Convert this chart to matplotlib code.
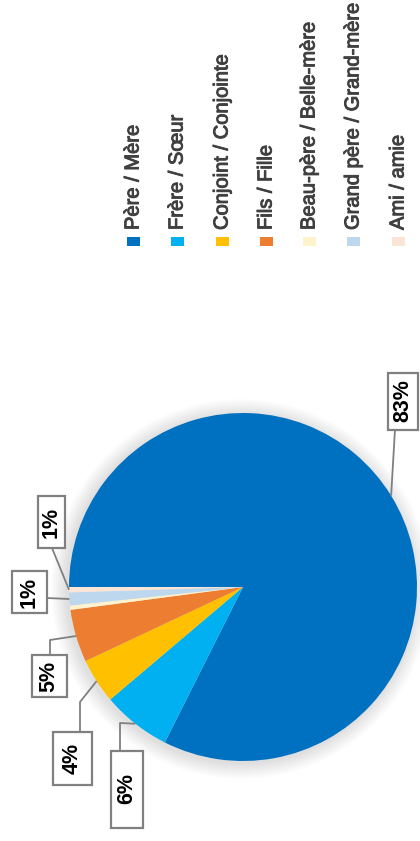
import numpy as np
import matplotlib
matplotlib.use("Agg")
import matplotlib.pyplot as plt
import matplotlib.patheffects as pe
from matplotlib.patches import Rectangle, Circle

# donnees
categories = ["Père / Mère", "Frère / Sœur", "Conjoint / Conjointe", "Fils / Fille",
              "Beau-père / Belle-mère", "Grand père / Grand-mère", "Ami / amie"]
valeurs = [82.5, 6.4, 4.2, 4.9, 0.4, 1.2, 0.5]
etiquettes = ["83%", "6%", "4%", "5%", "", "1%", "1%"]
couleurs = ["#0070C0", "#00B0F0", "#FFC000", "#ED7D31", "#FFF2CC", "#BDD7EE", "#FBE5D6"]

W, H = 420, 841
plt.rcParams['font.family'] = ['Liberation Sans', 'DejaVu Sans']
fig = plt.figure(figsize=(W / 100, H / 100), dpi=100)
ax = fig.add_axes([0, 0, 1, 1])

def py(y):
    # coordonnees image -> axes
    return H - y

cx, cy, r = 243, py(587), 174

# ombre douce autour du camembert
for i in range(16):
    ax.add_patch(Circle((cx - 2, cy - 2), r + 16 - i, color="#000000", alpha=0.008, lw=0, zorder=1))

wedges, _ = ax.pie(valeurs, colors=couleurs, startangle=180, counterclock=False,
                   center=(cx, cy), radius=r, wedgeprops=dict(linewidth=0, zorder=2),
                   frame=True)
ax.set_xlim(0, W)
ax.set_ylim(0, H)
ax.set_aspect("equal")
ax.axis("off")

# boites d'etiquettes : centre (x, y image), taille (l, h), coude
boites = {
    0: ((403, 401), (30, 57), None),
    1: ((127, 789), (32, 77), (120, 723)),
    2: ((72, 758), (39, 53), (80, 702)),
    3: ((49, 676), (35, 42), (50, 640)),
    5: ((29, 592), (35, 42), None),
    6: ((51, 522), (27, 52), None),
}

for i, ((bx, by), (bw, bh), coude) in boites.items():
    w = wedges[i]
    theta = np.deg2rad((w.theta1 + w.theta2) / 2)
    ax_, ay_ = cx + r * np.cos(theta), cy + r * np.sin(theta)
    # point d'attache sur la boite
    if i == 0:
        tx, ty = bx - 8, py(by + bh / 2)
    elif i == 5:
        tx, ty = bx + bw / 2, py(598)
    elif i == 6:
        tx, ty = bx + 1, py(by + bh / 2)
    else:
        tx, ty = coude[0], py(by - bh / 2)
    xs, ys = [ax_], [ay_]
    if coude is not None:
        xs.append(coude[0])
        ys.append(py(coude[1]))
    xs.append(tx)
    ys.append(ty)
    ax.plot(xs, ys, color="#808080", lw=1.3, zorder=3, solid_capstyle="butt")
    ax.add_patch(Rectangle((bx - bw / 2, py(by + bh / 2)), bw, bh, facecolor="white",
                           edgecolor="#808080", lw=1.6, zorder=4))
    ax.text(bx, py(by), etiquettes[i], rotation=90, ha="center", va="center",
            fontsize=15.5, fontweight="bold", color="#000000", zorder=5)

# legende verticale
leg_x = [133, 177, 222, 266, 309, 353, 398]
for x, nom, c in zip(leg_x, categories, couleurs):
    ax.add_patch(Rectangle((x - 6.5, py(246)), 13, 9, facecolor=c, lw=0))
    ax.text(x, py(230), nom, rotation=90, ha="center", va="bottom",
            fontsize=14.5, color="#404040",
            path_effects=[pe.withStroke(linewidth=0.7, foreground="#404040")])

fig.savefig("out.png", dpi=100)
